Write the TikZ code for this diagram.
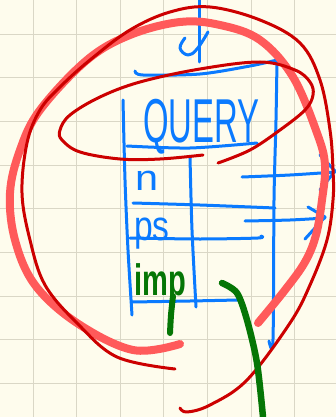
\documentclass[tikz,border=0pt]{standalone}
\usepackage{fontspec}
\setmainfont{Liberation Sans}
\definecolor{paper}{RGB}{254,252,237}
\definecolor{gridc}{RGB}{218,215,198}
\definecolor{inkblue}{RGB}{10,122,255}
\definecolor{inkred}{RGB}{204,0,0}
\definecolor{inksalmon}{RGB}{255,90,90}
\definecolor{inkgreen}{RGB}{5,118,5}
\tikzset{
  pen/.style={line cap=round, line join=round},
  blueline/.style={pen, draw=inkblue, line width=3pt},
  redline/.style={pen, draw=inkred, line width=3pt},
  salmonline/.style={pen, draw=inksalmon, line width=8pt},
  greenline/.style={pen, draw=inkgreen, line width=6.5pt},
  gridline/.style={draw=gridc, line width=1pt},
  label/.style={inner sep=0pt, anchor=base west},
}
\begin{document}
\begin{tikzpicture}[x=1pt,y=-1pt]
\useasboundingbox (0,0) rectangle (336,417);
\fill[paper] (0,0) rectangle (336,417);
% grid
\foreach \gx in {33,76.6,120.2,163.8,207.4,251,294.6} \draw[gridline] (\gx,0) -- (\gx,417);
\foreach \gy in {34.4,78,121.6,165.2,208.8,252.4,296,339.6,383.2} \draw[gridline] (0,\gy) -- (336,\gy);

% blue table
\draw[blueline] plot[smooth] coordinates {(199,0) (199,30) (199,62)};
\draw[blueline] plot[smooth, tension=0.7] coordinates {(208,32) (197,49) (188,55) (180,48) (185,38)};
\draw[blueline] plot[smooth] coordinates {(135,71) (143,75) (200,74) (250,66) (277,60)};
\draw[blueline] plot[smooth] coordinates {(277,60) (276,120) (274,200) (273,339) (269,341)};
\draw[blueline] plot[smooth] coordinates {(123,100) (125,180) (128,250) (132,315)};
\draw[blueline] plot[smooth] coordinates {(127,146) (190,148) (257,143)};
\draw[blueline] plot[smooth] coordinates {(190,157) (192,230) (196,307)};
\draw[blueline] plot[smooth] coordinates {(133,203) (200,205) (275,208)};
\draw[blueline] plot[smooth] coordinates {(130,238) (200,239) (258,238) (261,236)};
\draw[blueline] plot[smooth] coordinates {(132,302) (190,301) (238,300)};
% arrows
\draw[blueline] plot[smooth] coordinates {(242,177) (290,175) (335,172)};
\draw[blueline] (320,155) -- (335,171) -- (320,190);
\draw[blueline] plot[smooth] coordinates {(245,221) (290,220) (325,218)};
\draw[blueline] (308,207) -- (325,217) -- (305,239);

% texts
\node[label, text=inkblue, font=\fontsize{62}{62}\selectfont] (query) at (143,142) {\scalebox{0.53}[1]{QUERY}};
\node[label, text=inkblue, font=\fontsize{36}{36}\selectfont] (nlab) at (135,190) {\scalebox{1.15}[1]{n}};
\node[label, text=inkblue, font=\fontsize{42}{42}\selectfont] (pslab) at (134,240) {\scalebox{0.8}[1]{ps}};
\node[label, text=inkgreen, font=\bfseries\fontsize{44}{44}\selectfont] (implab) at (134,295) {\scalebox{0.66}[1]{imp}};
\draw[greenline, line width=6pt] plot[smooth] coordinates {(173,296) (171,315) (170,333)};

% salmon loop
\draw[salmonline] plot[smooth, tension=0.6] coordinates {(258,323) (285,290) (305,262) (316,235) (322,200) (325,165) (317,133) (293,77) (260,40) (220,25) (180,22) (130,35) (87,60) (40,110) (20,150) (10,193) (15,240) (35,285) (77,323) (133,350) (180,344)};

% dark red big loop
\draw[redline] plot[smooth, tension=0.6] coordinates {(175,369) (117,357) (77,323) (45,285) (30,240) (22,193) (27,143) (40,110) (60,87) (90,60) (130,30) (170,12) (210,7) (260,20) (300,43) (320,80) (330,130) (333,170) (333,200) (327,240) (310,285) (290,323) (247,380) (210,405) (187,412) (180,408)};

% dark red inner ellipse
\draw[redline] plot[smooth, tension=0.6] coordinates {(203,155) (160,159) (120,159) (80,152) (62,140) (60,130) (70,115) (100,97) (140,82) (200,69) (260,62) (295,70) (310,82) (313,95) (305,110) (280,130) (250,150) (218,163)};

% green stroke
\draw[greenline] plot[smooth] coordinates {(222,283) (237,293) (247,320) (257,363) (263,417)};
\end{tikzpicture}
\end{document}
